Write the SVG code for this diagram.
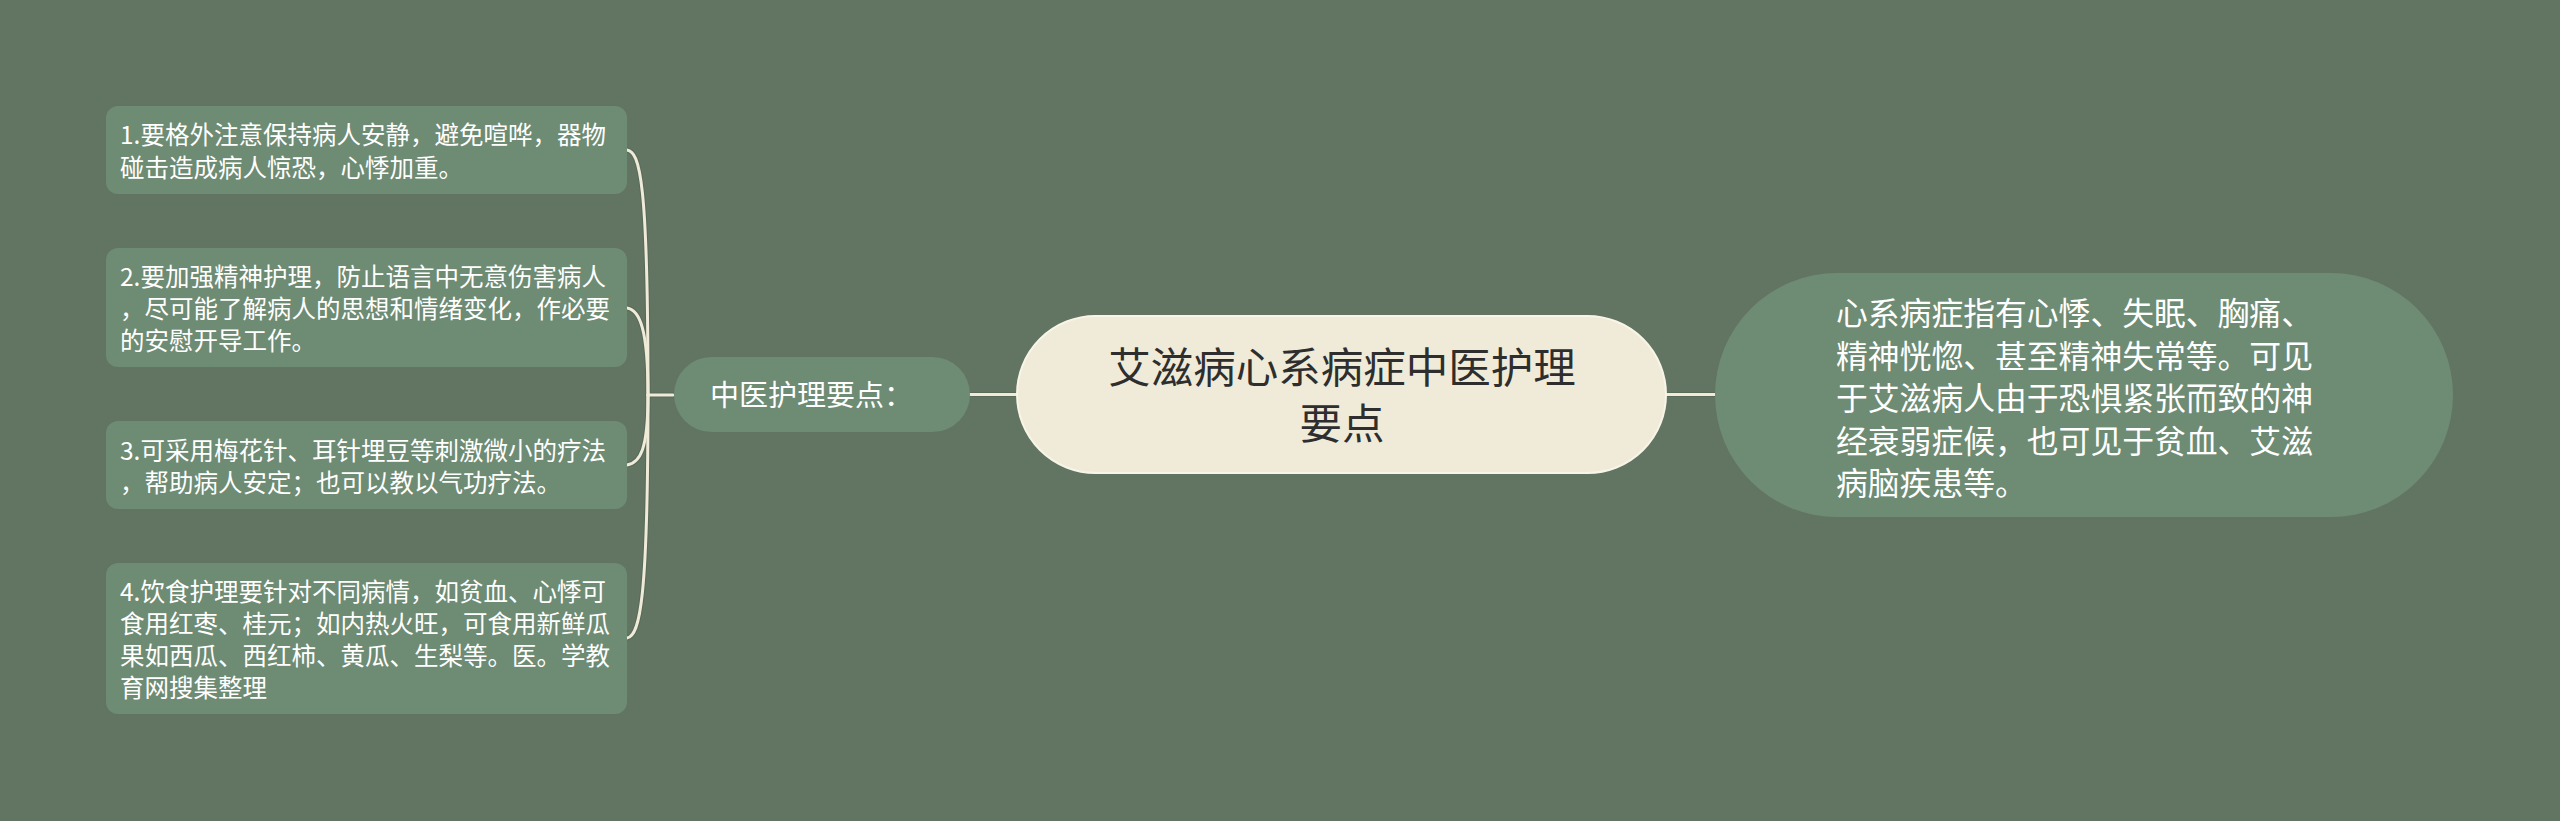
<svg xmlns="http://www.w3.org/2000/svg" width="2560" height="821" viewBox="0 0 2560 821">
<style>
.bg{fill:#627462}
.leaf{fill:#6e8b74}
.lt{font-family:"Noto Sans CJK SC","Noto Sans",sans-serif;font-size:24.5px;fill:#ffffff}
.mt{font-family:"Noto Sans CJK SC","Noto Sans",sans-serif;font-size:29px;fill:#ffffff}
.rt{font-family:"Noto Sans CJK SC","Noto Sans",sans-serif;font-size:42.5px;fill:#2e2e2e;text-anchor:middle}
.st{font-family:"Noto Sans CJK SC","Noto Sans",sans-serif;font-size:31.8px;fill:#ffffff}
.conn{fill:none;stroke:#f0ebd9;stroke-width:3;stroke-linecap:round}
.shadow{fill:none;stroke:#4f5f4f;stroke-width:5;stroke-linecap:round;opacity:0.5}
</style>
<rect class="bg" x="0" y="0" width="2560" height="821"/>
<g id="connectors">
<g class="shadow">
<path d="M 648 395 L 673 395"/>
<path d="M 627 150 C 640 152, 648 180, 648 395"/>
<path d="M 627 308 C 640 310, 648 330, 648 395"/>
<path d="M 627 465 C 640 463, 648 450, 648 395"/>
<path d="M 627 638 C 640 636, 648 600, 648 395"/>
<path d="M 1017 394.5 L 970 394.5"/>
<path d="M 1666 394.5 L 1715 394.5"/>
</g>
<g class="conn">
<path d="M 648 395 L 673 395"/>
<path d="M 627 150 C 640 152, 648 180, 648 395"/>
<path d="M 627 308 C 640 310, 648 330, 648 395"/>
<path d="M 627 465 C 640 463, 648 450, 648 395"/>
<path d="M 627 638 C 640 636, 648 600, 648 395"/>
<path d="M 1017 394.5 L 970 394.5"/>
<path d="M 1666 394.5 L 1715 394.5"/>
</g>
</g>
<g id="root">
<rect x="1017" y="316" width="649" height="157" rx="78.5" fill="#f0ebd9" stroke="#f8f5e8" stroke-width="2"/>
<text class="rt" x="1342" y="383">艾滋病心系病症中医护理</text>
<text class="rt" x="1342" y="439">要点</text>
</g>
<g id="main-branch">
<rect class="leaf" x="674" y="357" width="296" height="75" rx="37.5"/>
<text class="mt" x="710" y="406">中医护理要点：</text>
</g>
<g id="summary">
<rect class="leaf" x="1715" y="273" width="738" height="244" rx="122"/>
<text class="st" x="1836" y="325">心系病症指有心悸、失眠、胸痛、</text>
<text class="st" x="1836" y="367.5">精神恍惚、甚至精神失常等。可见</text>
<text class="st" x="1836" y="410">于艾滋病人由于恐惧紧张而致的神</text>
<text class="st" x="1836" y="452.5">经衰弱症候，也可见于贫血、艾滋</text>
<text class="st" x="1836" y="495">病脑疾患等。</text>
</g>
<g id="leaf1">
<rect class="leaf" x="106" y="106" width="521" height="88" rx="12"/>
<text class="lt" x="120" y="144">1.要格外注意保持病人安静，避免喧哗，器物</text>
<text class="lt" x="120" y="177">碰击造成病人惊恐，心悸加重。</text>
</g>
<g id="leaf2">
<rect class="leaf" x="106" y="248" width="521" height="119" rx="12"/>
<text class="lt" x="120" y="286">2.要加强精神护理，防止语言中无意伤害病人</text>
<text class="lt" x="120" y="318">，尽可能了解病人的思想和情绪变化，作必要</text>
<text class="lt" x="120" y="350">的安慰开导工作。</text>
</g>
<g id="leaf3">
<rect class="leaf" x="106" y="421" width="521" height="88" rx="12"/>
<text class="lt" x="120" y="460">3.可采用梅花针、耳针埋豆等刺激微小的疗法</text>
<text class="lt" x="120" y="492">，帮助病人安定；也可以教以气功疗法。</text>
</g>
<g id="leaf4">
<rect class="leaf" x="106" y="563" width="521" height="151" rx="12"/>
<text class="lt" x="120" y="601">4.饮食护理要针对不同病情，如贫血、心悸可</text>
<text class="lt" x="120" y="633">食用红枣、桂元；如内热火旺，可食用新鲜瓜</text>
<text class="lt" x="120" y="665">果如西瓜、西红柿、黄瓜、生梨等。医。学教</text>
<text class="lt" x="120" y="697">育网搜集整理</text>
</g>
</svg>
